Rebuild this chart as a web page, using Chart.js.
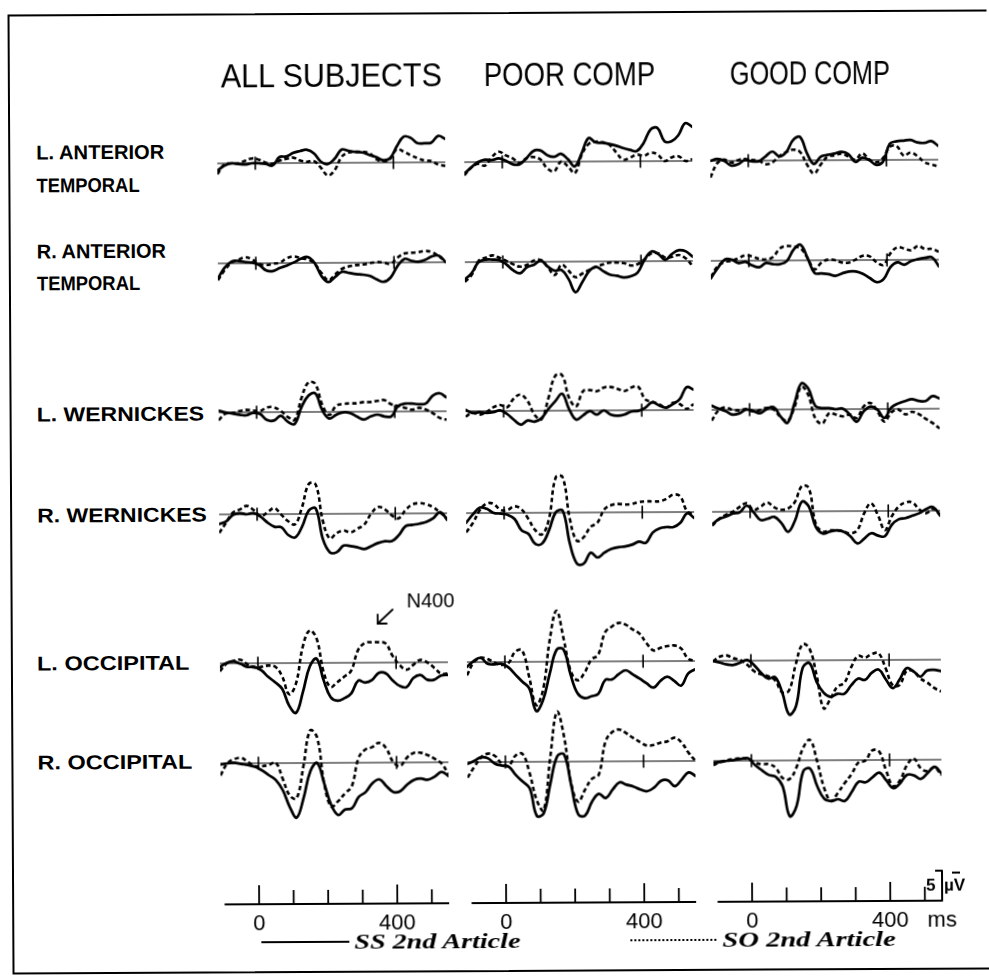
<!DOCTYPE html>
<html>
<head>
<meta charset="utf-8">
<script src="https://cdn.jsdelivr.net/npm/chart.js@4.4.0/dist/chart.umd.min.js"></script>
<style>
html,body{margin:0;padding:0;background:#fff;}
#page{position:absolute;left:0;top:0;width:989px;height:979px;overflow:hidden;background:#fff;transform:rotate(-0.3deg);transform-origin:494px 490px;}
#page canvas{position:absolute;}
.t{position:absolute;white-space:nowrap;color:#000;transform-origin:0 50%;}
.hdr{font-family:"Liberation Sans",Arial,sans-serif;font-size:33px;line-height:40px;}
.lab{font-family:"Liberation Sans",Arial,sans-serif;font-size:20px;font-weight:bold;line-height:24px;}
.leg{font-family:"Liberation Serif","DejaVu Serif",serif;font-size:21px;font-weight:bold;font-style:italic;line-height:26px;}
.cal{font-family:"Liberation Sans",Arial,sans-serif;font-size:17px;font-weight:bold;line-height:20px;}
#frame{position:absolute;left:10px;top:12px;width:990px;height:960px;border:2px solid #000;box-sizing:border-box;}
</style>
</head>
<body>
<div id="page"><div id="frame"></div></div>
<script>
// ---------------- DATA ----------------
const groups = ['ALL SUBJECTS', 'POOR COMP', 'GOOD COMP'];
const sites = [['L. ANTERIOR', 'TEMPORAL'], ['R. ANTERIOR', 'TEMPORAL'], ['L. WERNICKES'], ['R. WERNICKES'], ['L. OCCIPITAL'], ['R. OCCIPITAL']];
const seriesNames = ['SS 2nd Article', 'SO 2nd Article'];
// sample times (ms)
const times = [-110,-90,-70,-50,-30,-10,10,30,50,70,90,110,130,150,170,190,210,230,250,270,290,310,330,350,370,390,410,430,450,470,490,510,530,550];
const markerTimes = [0, 400];              // small ticks on each baseline
const axisTickTimes = [0, 100, 200, 300, 400, 500];
const axisLabelTimes = [0, 400];
const axisRange = [-100, 550];
const unitLabel = 'ms';
const scaleBarUV = 5;                        // calibration bar (µV, negative up)

// amplitudes in µV (negative plotted up)
// ALL SUBJECTS
const ss_all_LAT = [1.2,0.4,0,0.1,0.2,0,0,0.1,0.4,-1.0,-1.1,-1.7,-2.0,-2.2,-1.6,-0.2,0.2,-0.7,-2.2,-2.0,-1.8,-1.7,-1.3,-0.9,-0.4,-0.7,-2.7,-4.3,-4.1,-3.2,-3.2,-3.3,-4.4,-3.9];
const so_all_LAT = [1.8,0.2,0,0,-0.4,-0.8,-0.6,-0.1,0.1,-0.4,-0.7,-0.9,-0.4,-0.2,-0.3,0.8,2.1,1.2,-1.0,-1.7,-1.8,-1.8,-1.6,-0.6,-0.2,-0.6,-2.2,-1.8,-1.2,-0.7,-0.3,-0.2,0.4,0.6];
const ss_all_RAT = [2.5,0.7,-0.3,-0.4,-0.2,-0.1,0.3,1.2,1.3,0.8,0.4,-0.1,-0.7,-1.0,0,2.2,3.2,2.3,1.5,1.7,1.9,2.0,2.2,2.8,3.2,2.5,0.6,-0.6,-0.3,-0.1,-0.4,-1.0,-1.1,0];
const so_all_RAT = [2.8,1.1,-0.1,-0.6,-1.0,-0.6,0.1,0.3,0.1,-0.1,-0.8,-1.1,-0.8,-0.6,0.1,1.7,2.9,1.9,1.0,0.6,0.4,0.3,0.1,-0.1,0,0.2,-0.8,-1.5,-1.6,-1.7,-1.9,-1.7,-1.0,-0.1];
const ss_all_LW = [-0.3,0,0.2,0.4,0.5,0.1,0.3,1.3,1.4,0.6,1.6,2.0,-0.8,-2.7,-3.1,-0.3,1.1,0.5,0.1,0.2,0.8,1.3,0.8,0.5,0.8,0.8,-0.9,-1.3,-1.3,-1.2,-1.3,-2.6,-3.0,-2.3];
const so_all_LW = [1.3,0.2,0.1,-0.2,-0.4,-0.3,-0.2,-0.8,-0.8,-0.2,0.8,1.3,-2.3,-4.9,-4.7,-1.2,0.5,-1.0,-1.3,-1.4,-1.4,-1.6,-1.6,-1.8,-1.9,-1.2,-0.9,-0.6,-0.3,-0.6,-0.3,0.3,1.1,1.4];
const ss_all_RW = [1.6,1.2,0.1,-0.2,0,-0.2,0.4,1.4,2.1,2.2,3.5,3.9,2.1,-0.6,-0.9,4.2,6.4,6.4,5.3,5.4,5.6,5.9,5.4,4.9,4.6,4.6,3.6,2.1,1.9,1.7,1.4,0.8,-0.2,1.1];
const so_all_RW = [3.1,1.4,-0.3,-0.8,-1.4,-0.7,0.3,-0.3,-1.0,0.1,1.2,1.7,-1.1,-5.0,-4.9,1.1,4.1,3.2,2.8,3.1,2.5,1.8,0,-1.1,-0.7,0.3,0.8,-0.6,-1.5,-1.7,-1.5,-1.0,-0.1,0.8];
const ss_all_LO = [0.6,-0.1,-0.3,0.1,0.6,0.6,1.2,2.3,3.2,4.3,7.1,8.3,4.8,0.6,-0.7,2.9,5.7,6.3,5.9,5.1,3.0,3.3,2.9,1.7,1.8,3.0,3.9,4.1,2.6,2.1,2.9,2.9,2.2,2.1];
const so_all_LO = [1.3,0,-0.4,-0.6,0.2,0.7,0.6,0.4,0.6,2.2,5.2,3.4,-2.7,-5.4,-4.1,1.5,4.0,3.2,2.3,1.3,-2.1,-3.3,-3.4,-3.4,-3.2,-1.1,0.4,1.2,0.4,-0.4,0,0.9,1.9,1.9];
const ss_all_RO = [0.2,0,-0.1,0.1,0.3,0.6,1.2,2.0,2.8,4.5,7.3,9.1,5.9,1.4,0.0,3.4,7.0,8.7,7.8,7.6,5.7,4.9,3.4,2.8,3.9,4.9,4.8,3.7,2.9,2.7,2.9,2.4,1.6,2.3];
const so_all_RO = [2.0,0,-0.7,-0.9,-0.2,0.5,0.5,0.3,-0.1,2.6,5.4,5.9,0.6,-5.4,-4.3,3.4,7.3,6.4,5.1,3.9,-0.8,-2.2,-2.6,-3.3,-2.4,-0.1,0.6,-0.8,-1.6,-1.6,-1.2,-0.6,0.2,2.0];
// POOR COMP
const ss_poor_LAT = [1.9,0.9,0,-0.4,-0.3,-0.6,-0.2,0.4,0.4,-0.6,-1.8,-1.9,-1.1,-0.8,-1.3,-0.4,0.8,-1.4,-3.9,-3.2,-3.1,-2.9,-2.6,-2.2,-1.9,-1.7,-3.1,-5.3,-5.5,-3.3,-3.3,-4.3,-6.3,-5.7];
const so_poor_LAT = [2.2,0.9,0.3,0.6,-0.8,-1.7,-1.1,-0.6,0.2,-0.6,-0.8,-0.4,1.1,1.6,0,0.8,1.9,-1.1,-2.9,-3.3,-3.2,-2.8,-1.5,-0.3,-0.6,-1.1,-0.9,-1.4,-1.1,0,-0.6,-0.8,0,-0.3];
const ss_poor_RAT = [2.9,1.8,0,-0.4,-0.4,-0.3,0.4,1.4,1.9,0.9,0.5,-0.2,0.8,1.5,1.4,2.9,5.1,3.4,1.6,0.9,1.6,2.2,2.4,2.7,2.5,1.9,-0.2,-1.6,-1.2,-0.2,-1.2,-1.8,-1.6,-0.7];
const so_poor_RAT = [3.3,2.1,-0.2,-0.7,-1.1,-0.7,-0.2,0.4,0.8,0.5,-0.2,-0.3,0.9,2.2,0.5,1.5,2.6,2.0,1.4,0.9,0.5,0.2,0.2,0.3,0.7,0.5,-0.3,-1.3,-1.3,-0.6,-0.7,-1.0,-0.4,0.9];
const ss_poor_LW = [-0.2,0.3,0.2,0.3,0.2,-0.1,0.5,1.5,2.3,1.6,1.8,1.2,-0.3,-1.6,-2.8,-0.2,1.5,0.8,0.1,0.7,0,0.7,0.9,0.7,0.2,0.1,-0.4,-1.3,-0.8,-0.4,-1.0,-1.8,-3.8,-3.4];
const so_poor_LW = [0.9,0.3,0.6,0.2,-0.6,-1.0,-0.6,-2.1,-2.7,-1.6,0.7,1.4,-2.1,-5.8,-5.9,-2.1,-0.7,-3.2,-3.4,-3.2,-3.8,-3.9,-3.6,-3.2,-3.8,-3.9,-1.8,-1.4,-1.0,-0.4,-1.2,-1.0,-0.2,-1.0];
const ss_poor_RW = [1.6,0.2,-0.9,-0.7,0,0.1,0.3,1.0,2.9,3.5,5.2,5.1,2.9,-0.1,-0.3,5.2,8.5,8.5,6.7,7.5,6.7,6.1,5.8,5.7,5.4,4.9,5.1,3.4,2.7,2.5,2.5,1.8,0.2,1.0];
const so_poor_RW = [3.2,1.6,-0.5,-1.6,-1.5,-0.5,-0.5,-1.1,-0.6,1.0,2.9,3.6,1.0,-5.9,-5.9,1.0,4.7,4.1,2.4,1.7,-0.5,-1.2,-1.4,-1.3,-1.4,-1.7,-1.8,-1.8,-1.8,-2.2,-2.9,-2.6,-0.1,0.4];
const ss_poor_LO = [0.8,-0.2,-0.7,0.3,0.4,0.3,0.9,2.1,3.3,4.4,8.2,6.4,1.9,-2.0,-2.0,2.2,5.3,6.1,5.8,5.4,3.1,3.0,2.1,1.5,2.2,2.9,3.7,4.4,3.3,2.6,3.3,4.1,2.1,1.4];
const so_poor_LO = [2.2,0,-0.7,-0.5,0.1,0.5,0.2,-1.7,-1.9,2.5,7.2,4.7,-3.6,-8.5,-3.9,1.5,3.1,1.9,-0.3,-1.1,-4.8,-5.8,-6.4,-6.1,-5.3,-4.6,-3.0,-1.8,-2.2,-2.5,-2.6,-2.1,-0.4,0];
const ss_poor_RO = [0.3,-0.2,-0.8,-0.6,0.3,0.6,0.8,2.2,3.3,4.4,9.0,8.6,3.6,-0.9,-1.2,3.9,8.8,9.0,6.7,5.4,6.1,4.7,3.5,3.9,4.2,4.7,5.0,4.4,3.3,3.2,4.2,3.1,1.9,2.5];
const so_poor_RO = [2.6,0.8,-0.8,-1.4,-1.0,0.3,0.6,-1.1,-1.3,1.9,6.4,8.1,-0.8,-8.3,-4.2,3.6,6.7,4.7,2.9,2.2,-3.3,-4.9,-5.3,-4.7,-3.9,-3.2,-2.6,-2.7,-3.1,-3.3,-3.9,-3.1,-1.4,0];
// GOOD COMP
const ss_good_LAT = [0,-0.3,0,0.8,0.6,-0.1,0.1,0.1,-0.7,-1.5,-0.7,-1.4,-3.4,-3.9,-1.2,0.6,-0.6,-0.9,-1.1,-1.4,-1.0,0.3,-0.4,0,0.8,0.3,-2.7,-3.1,-3.2,-3.3,-2.9,-2.8,-3.1,-2.3];
const so_good_LAT = [2.8,0.4,-0.2,0.3,-0.1,-0.3,-0.1,0,0.6,0.3,-0.7,-1.4,-1.8,-1.4,0.7,2.2,0.7,-0.6,-0.8,-1.1,-0.6,-0.1,-1.1,-0.1,0.4,-0.3,-2.2,-2.3,-0.7,-1.2,-0.6,0.4,0.8,1.1];
const ss_good_RAT = [2.9,1.2,-0.2,-0.2,0.4,0.2,0.8,1.1,0.4,0.6,0.6,0.1,-1.8,-2.6,-0.4,2.1,2.2,2.3,2.6,2.2,1.9,1.9,2.3,3.0,3.7,3.2,1.2,0.4,0.8,0.2,-0.1,-0.3,-0.4,1.1];
const so_good_RAT = [2.7,0.9,0.2,0,-0.4,-0.9,-0.7,-0.3,-0.2,-0.6,-2.0,-2.4,-2.3,-2.0,-0.4,1.5,0.4,-0.1,0,0.4,0.4,-0.1,-0.7,-0.6,0.4,0.8,-1.1,-2.1,-1.9,-1.6,-2.3,-1.8,-1.8,-1.3];
const ss_good_LW = [-0.7,-0.2,0.2,0.8,0.6,0,0.2,0.6,-0.1,-0.4,1.2,2.2,-1.0,-4.3,-3.5,-0.6,-0.2,-0.2,0,-0.1,0.9,2.1,0.4,-0.4,0.1,1.5,-0.2,-0.9,-1.3,-1.6,-1.3,-1.3,-2.1,-1.7];
const so_good_LW = [1.8,0.1,-0.4,0,0.1,-0.1,0.3,0.1,-0.3,0,1.3,1.9,-0.4,-3.8,-2.4,1.5,2.4,0.7,0.9,1.2,0.9,1.5,-0.4,-1.0,0.4,2.1,0.6,0.1,0.9,0.5,0.9,1.7,2.4,3.3];
const ss_good_RW = [2.1,1.2,0.8,0.3,0.1,-1.0,0.1,1.4,1.2,0.9,1.9,3.4,1.5,-1.6,-0.8,2.6,3.7,3.4,3.2,3.4,4.2,5.4,4.6,3.7,4.1,4.2,2.3,1.4,1.2,0.8,0.4,-0.3,-0.6,0.8];
const so_good_RW = [2.3,1.2,0.5,0,-0.8,-1.4,-0.3,-0.8,-1.5,-0.7,-0.3,-0.5,-1.6,-4.2,-3.9,2.1,3.4,3.2,3.2,3.4,3.7,3.2,0.4,-1.3,0.7,3.2,0.9,-0.7,-1.4,-1.4,-0.2,0.4,-0.3,0.7];
const ss_good_LO = [0,0.3,0.6,0.7,0.3,-0.1,0.8,2.1,3.0,2.8,5.3,9.0,7.6,1.2,0.5,3.6,5.4,6.1,5.6,5.6,4.2,3.1,3.3,2.1,1.6,3.2,4.7,3.3,1.4,1.9,2.8,1.8,1.7,1.9];
const so_good_LO = [0.1,-0.7,-0.9,-0.4,-0.1,0.7,1.8,2.3,2.6,3.3,5.3,5.0,0.6,-2.7,-1.9,2.5,8.0,6.4,4.4,3.8,1.2,-0.7,-0.4,-1.0,-1.1,1.4,4.2,4.2,1.9,1.9,3.1,3.8,4.7,5.3];
const ss_good_RO = [0.3,0.2,0,-0.1,-0.3,-0.4,0.7,1.6,2.4,2.7,4.3,9.3,7.6,1.8,1.4,4.3,6.4,6.8,6.5,6.8,5.3,3.6,3.7,2.9,2.1,3.4,4.7,3.9,2.5,2.6,3.2,2.2,1.2,2.3];
const so_good_RO = [0.7,0.2,-0.1,-0.3,-0.4,-0.3,0.3,0.6,0.6,1.2,2.9,3.1,1.2,-2.1,-3.4,0.1,4.6,6.8,5.4,3.8,2.3,0.4,0.1,-1.6,-1.4,1.8,4.4,3.4,0.9,-0.2,1.4,1.9,1.3,2.6];

const ssData = [
  [ss_all_LAT, ss_all_RAT, ss_all_LW, ss_all_RW, ss_all_LO, ss_all_RO],
  [ss_poor_LAT, ss_poor_RAT, ss_poor_LW, ss_poor_RW, ss_poor_LO, ss_poor_RO],
  [ss_good_LAT, ss_good_RAT, ss_good_LW, ss_good_RW, ss_good_LO, ss_good_RO]
];
const soData = [
  [so_all_LAT, so_all_RAT, so_all_LW, so_all_RW, so_all_LO, so_all_RO],
  [so_poor_LAT, so_poor_RAT, so_poor_LW, so_poor_RW, so_poor_LO, so_poor_RO],
  [so_good_LAT, so_good_RAT, so_good_LW, so_good_RW, so_good_LO, so_good_RO]
];

// ---------------- LAYOUT / STYLE ----------------
const T0 = times[0], T1 = times[times.length - 1];
const CW = 228;                          // canvas width for the time span
const K = CW / (T1 - T0);                // px per ms
const PXUV = 6;                          // px per µV
const COL_X0 = [256.6, 503.8, 750.2];    // x of t = 0 in each column
const ROW_Y = [162, 261.8, 411.2, 512.6, 662, 762.4]; // baseline y per row
const AXIS_Y = 903;
const PANEL_H = 144;
const TICK_TALL = 19 / PXUV, TICK_SHORT = 14 / PXUV, MARK = 6 / PXUV;
const page = document.getElementById('page');

function pts(vals) { return times.map((t, i) => ({x: t, y: vals[i]})); }
function seg(a, b) { return [a, b]; }

function makeCanvas(left, top, w, h) {
  const c = document.createElement('canvas');
  c.width = w; c.height = h;
  c.style.left = left + 'px'; c.style.top = top + 'px';
  c.style.width = w + 'px'; c.style.height = h + 'px';
  page.appendChild(c);
  return c;
}
const baseOpts = {
  responsive: false, animation: false, events: [], devicePixelRatio: 1,
  plugins: {legend: {display: false}, tooltip: {enabled: false}},
  elements: {point: {radius: 0}, line: {borderCapStyle: 'butt', borderJoinStyle: 'round'}}
};

function panel(col, row) {
  const c = makeCanvas(COL_X0[col] + T0 * K, ROW_Y[row] - PANEL_H / 2, CW, PANEL_H);
  const half = PANEL_H / 2 / PXUV;
  const ds = [];
  ds.push({data: pts(ssData[col][row]), borderColor: '#000', borderWidth: 2.7, tension: 0.4, borderCapStyle: 'round', order: 0, clip: false});
  ds.push({data: pts(soData[col][row]), borderColor: '#000', borderWidth: 2.6, borderDash: [4.5, 3], borderCapStyle: 'butt', tension: 0.4, order: 1, clip: false});
  ds.push({data: seg({x: T0, y: 0}, {x: T1, y: 0}), borderColor: '#000', borderWidth: 1.2, tension: 0, order: 2, clip: false});
  markerTimes.forEach(t => ds.push({data: seg({x: t, y: -MARK}, {x: t, y: MARK}), borderColor: '#000', borderWidth: 1.6, tension: 0, order: 2, clip: false}));
  new Chart(c, {
    type: 'line',
    data: {datasets: ds},
    options: Object.assign({}, baseOpts, {
      layout: {padding: 0},
      scales: {
        x: {type: 'linear', min: T0, max: T1, display: false},
        y: {type: 'linear', min: -half, max: half, reverse: true, display: false}
      }
    })
  });
}

function axisChart(col) {
  const last = col === groups.length - 1;
  const extra = 30;
  const c = makeCanvas(COL_X0[col] + T0 * K, AXIS_Y - 36, CW + extra, 70);
  const ds = [];
  ds.push({data: seg({x: axisRange[0], y: 0}, {x: axisRange[1], y: 0}), borderColor: '#000', borderWidth: 2, tension: 0, clip: false});
  axisTickTimes.forEach(t => {
    const h = axisLabelTimes.includes(t) ? TICK_TALL : TICK_SHORT;
    ds.push({data: seg({x: t, y: 0}, {x: t, y: -h}), borderColor: '#000', borderWidth: 1.8, tension: 0, clip: false});
  });
  if (last) {
    ds.push({data: [{x: axisRange[1] - 20, y: -scaleBarUV}, {x: axisRange[1], y: -scaleBarUV}, {x: axisRange[1], y: 0}], borderColor: '#000', borderWidth: 2, tension: 0, clip: false});
  }
  const labelVals = last ? axisLabelTimes.concat([axisRange[1]]) : axisLabelTimes.slice();
  new Chart(c, {
    type: 'line',
    data: {datasets: ds},
    options: Object.assign({}, baseOpts, {
      layout: {padding: {left: 0, right: extra, top: 0, bottom: 0}},
      scales: {
        x: {
          type: 'linear', min: T0, max: T1, position: 'bottom',
          grid: {display: false}, border: {display: false},
          afterBuildTicks: s => { s.ticks = labelVals.map(v => ({value: v})); },
          afterFit: s => { s.height = 34; },
          ticks: {autoSkip: false, maxRotation: 0, padding: -1, color: '#000',
            font: {family: 'Liberation Sans', size: 22},
            callback: v => (v === axisRange[1] ? unitLabel : String(v))}
        },
        y: {type: 'linear', min: -6, max: 0, reverse: true, display: false}
      }
    })
  });
}

for (let col = 0; col < groups.length; col++) {
  for (let row = 0; row < sites.length; row++) panel(col, row);
  axisChart(col);
}

// ---------------- TEXT ----------------
function text(str, cls, left, cy, width, lh) {
  const d = document.createElement('div');
  d.className = 't ' + cls;
  d.textContent = str;
  d.style.left = left + 'px';
  d.style.top = (cy - lh / 2) + 'px';
  page.appendChild(d);
  if (width) {
    const w = d.offsetWidth;
    if (w > 0) d.style.transform = 'scaleX(' + (width / w) + ')';
  }
  return d;
}
// column headers
const hdrPos = [[223, 74.5, 221], [486, 74.5, 171], [732, 74.5, 160]];
groups.forEach((g, i) => text(g, 'hdr', hdrPos[i][0], hdrPos[i][1], hdrPos[i][2], 40));
// row labels
const labPos = [[[38, 150, 128], [38, 183, 103]], [[38, 249, 129], [38, 281, 103]], [[37, 412, 168]], [[37, 513, 170]], [[36, 661, 153]], [[36, 760, 155]]];
sites.forEach((lines, r) => lines.forEach((ln, j) => {
  const p = labPos[r][j];
  text(ln, 'lab', p[0], p[1], p[2], 24);
}));
// N400 annotation
const n4 = document.createElement('div');
n4.className = 't';
n4.textContent = 'N400';
n4.style.cssText += 'font-family:"Liberation Sans",Arial,sans-serif;font-size:20px;line-height:24px;left:406px;top:588px;';
page.appendChild(n4);
const svgNS = 'http://www.w3.org/2000/svg';
const svg = document.createElementNS(svgNS, 'svg');
svg.setAttribute('width', '989'); svg.setAttribute('height', '979');
svg.style.position = 'absolute'; svg.style.left = '0'; svg.style.top = '0';
svg.innerHTML = '<g stroke="#000" stroke-width="1.8" fill="none" stroke-linecap="round">' +
  '<line x1="392" y1="609" x2="377" y2="623"/>' +
  '<polyline points="377,614 377,623 386,623"/></g>';
page.appendChild(svg);
// calibration label ("5 µV" split around the bar)
text('5', 'cal', 924, 888, 0, 20);
text('\u00B5V', 'cal', 942, 888, 0, 20);
const minus = document.createElement('div');
minus.style.cssText = 'position:absolute;left:950px;top:874px;width:8px;height:0;border-top:2px solid #000;';
page.appendChild(minus);
// legend
const l1 = document.createElement('div');
l1.style.cssText = 'position:absolute;left:259px;top:940px;width:88px;height:0;border-top:2.5px solid #000;';
page.appendChild(l1);
text(seriesNames[0], 'leg', 352, 941, 166, 26);
const l2 = document.createElement('div');
l2.style.cssText = 'position:absolute;left:628px;top:940px;width:86px;height:0;border-top:2px dotted #000;';
page.appendChild(l2);
text(seriesNames[1], 'leg', 720, 941, 174, 26);
</script>
</body>
</html>
